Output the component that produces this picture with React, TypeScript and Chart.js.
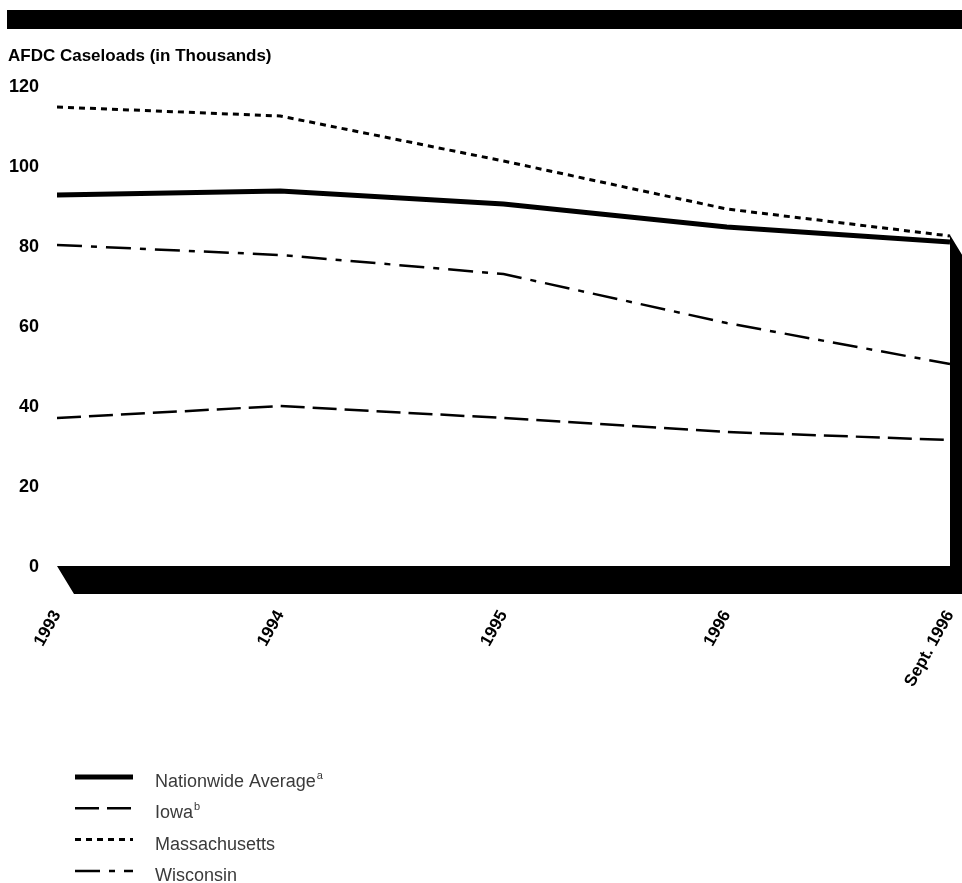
import { useEffect, useRef } from "react";
import { Chart, registerables } from "chart.js";

Chart.register(...registerables);

// Reporting periods on the horizontal axis
const periods = ["1993", "1994", "1995", "1996", "Sept. 1996"];

// AFDC caseloads, in thousands
const nationwide = [93, 94, 90.75, 85, 81.25];
const iowa = [37.25, 40.25, 37.25, 33.75, 31.75];
const massachusetts = [115, 112.75, 101.5, 89.5, 82.75];
const wisconsin = [80.5, 78, 73.25, 61, 50.75];

// Value axis ticks
const yTicks = [0, 20, 40, 60, 80, 100, 120];

const seriesNames = ["Nationwide Average", "Iowa", "Massachusetts", "Wisconsin"];
const seriesNotes = ["a", "b", "", ""];
const axisTitle = "AFDC Caseloads (in Thousands)";

// Height of the back wall of the chart "box", in thousands
const wallHeight = 83;

const FONT = "'Liberation Sans', Arial, Helvetica, sans-serif";

const lineStyles = [
  { width: 5, dash: [] as number[] },
  { width: 2.5, dash: [24, 8] },
  { width: 3, dash: [6, 5] },
  { width: 2.5, dash: [25, 9, 6, 9] },
];

const framePlugin = {
  id: "frame",
  beforeDatasetsDraw(chart: any) {
    const { ctx, scales } = chart;
    const x = scales.x;
    const y = scales.y;
    const left = x.getPixelForValue(0);
    const right = x.getPixelForValue(periods.length - 1);
    const floor = y.getPixelForValue(0) - 1;
    const wallTop = y.getPixelForValue(wallHeight);
    const dx = 17;
    const dy = 28;
    ctx.save();
    ctx.fillStyle = "#000";
    ctx.beginPath();
    ctx.moveTo(left, floor);
    ctx.lineTo(right, floor);
    ctx.lineTo(right, wallTop);
    ctx.lineTo(right + dx, wallTop + dy);
    ctx.lineTo(right + dx, floor + dy);
    ctx.lineTo(left + dx, floor + dy);
    ctx.closePath();
    ctx.fill();
    ctx.restore();
  },
  afterDraw(chart: any) {
    const { ctx } = chart;
    ctx.save();
    // banner across the top
    ctx.fillStyle = "#000";
    ctx.fillRect(7, 10, chart.width - 7, 19);

    // axis title
    ctx.font = `bold 17px ${FONT}`;
    ctx.textAlign = "left";
    ctx.textBaseline = "alphabetic";
    ctx.fillText(axisTitle, 8, 61);

    // legend
    chart.data.datasets.forEach((ds: any, i: number) => {
      const cy = 777 + i * 31.3;
      ctx.strokeStyle = "#000";
      ctx.lineWidth = ds.borderWidth;
      ctx.setLineDash(ds.borderDash || []);
      ctx.lineCap = "butt";
      ctx.beginPath();
      ctx.moveTo(75, cy);
      ctx.lineTo(133, cy);
      ctx.stroke();
      ctx.setLineDash([]);

      ctx.fillStyle = "#3a3a3a";
      ctx.font = `18px ${FONT}`;
      ctx.textBaseline = "alphabetic";
      ctx.fillText(ds.label, 155, cy + 10);
      const note = seriesNotes[i];
      if (note) {
        const w = ctx.measureText(ds.label).width;
        ctx.font = `11px ${FONT}`;
        ctx.fillText(note, 155 + w + 1, cy + 2);
      }
    });
    ctx.restore();
  },
};

export default function App() {
  const canvasRef = useRef<HTMLCanvasElement | null>(null);

  useEffect(() => {
    const canvas = canvasRef.current;
    if (!canvas) return;
    const series = [nationwide, iowa, massachusetts, wisconsin];
    const chart = new Chart(canvas, {
      type: "line",
      data: {
        labels: periods,
        datasets: series.map((values, i) => ({
          label: seriesNames[i],
          data: values,
          borderColor: "#000",
          backgroundColor: "#000",
          borderWidth: lineStyles[i].width,
          borderDash: lineStyles[i].dash,
          pointRadius: 0,
          tension: 0,
          fill: false,
        })),
      },
      options: {
        responsive: false,
        animation: false,
        devicePixelRatio: 1,
        layout: { padding: { top: 87, right: 12, left: 0, bottom: 0 } },
        plugins: {
          legend: { display: false },
          tooltip: { enabled: false },
        },
        scales: {
          x: {
            offset: false,
            grid: { display: false, drawTicks: false },
            border: { display: false },
            ticks: {
              autoSkip: false,
              minRotation: 61,
              maxRotation: 61,
              padding: 40,
              color: "#000",
              font: { family: FONT, size: 17, weight: "bold" },
            },
            afterFit: (s: any) => {
              s.height = 316;
              s.paddingLeft = 0;
              s.paddingRight = 0;
            },
          },
          y: {
            min: 0,
            max: 120,
            grid: { display: false, drawTicks: false },
            border: { display: false },
            afterBuildTicks: (s: any) => {
              s.ticks = yTicks.map((v) => ({ value: v }));
            },
            ticks: {
              padding: 18,
              color: "#000",
              font: { family: FONT, size: 18, weight: "bold" },
            },
            afterFit: (s: any) => {
              s.width = 57;
            },
          },
        },
      },
      plugins: [framePlugin],
    } as any);
    return () => chart.destroy();
  }, []);

  return (
    <div style={{ position: "absolute", left: 0, top: 0, width: 962, height: 883, background: "#fff" }}>
      <canvas ref={canvasRef} width={962} height={883} style={{ width: 962, height: 883, display: "block" }} />
    </div>
  );
}
